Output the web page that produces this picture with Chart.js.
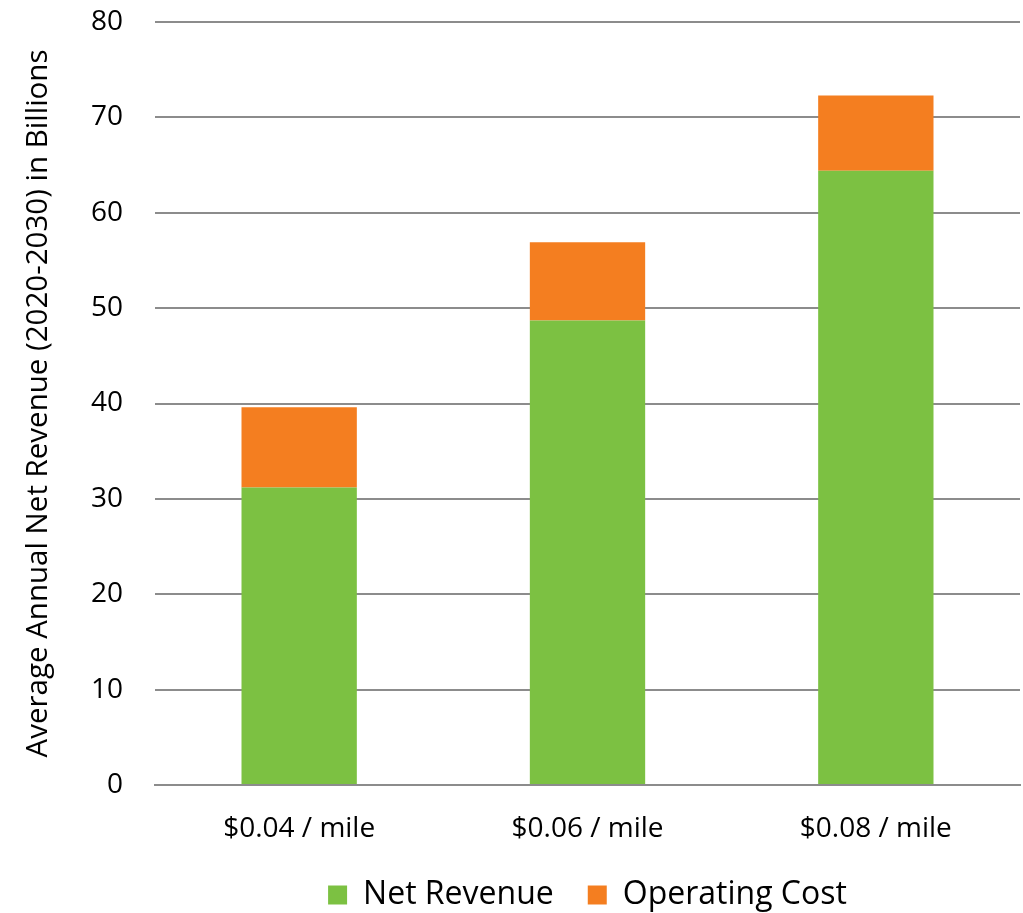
<!DOCTYPE html>
<html>
<head>
<meta charset="utf-8">
<script src="https://cdn.jsdelivr.net/npm/chart.js@4/dist/chart.umd.min.js"></script>
<style>
  html, body { margin: 0; padding: 0; background: #fff; }
  #wrap { width: 1023px; height: 913px; }
</style>
</head>
<body>
<div id="wrap"><canvas id="revenue-chart"></canvas></div>
<script>
// chart data
const categories = ["$0.04 / mile", "$0.06 / mile", "$0.08 / mile"];
const netRevenue = [31.2, 48.7, 64.4];
const operatingCost = [8.4, 8.2, 7.9];
const yTicks = [0, 10, 20, 30, 40, 50, 60, 70, 80];

const fontFamily = "'Open Sans', 'Noto Sans', sans-serif";
const gridColor = "#8c8c8c";

const revenueChart = new Chart(document.getElementById("revenue-chart"), {
  type: "bar",
  data: {
    labels: categories,
    datasets: [
      {
        label: "Net Revenue",
        data: netRevenue,
        backgroundColor: "#7cc142",
        barPercentage: 0.4,
        categoryPercentage: 1,
      },
      {
        label: "Operating Cost",
        data: operatingCost,
        backgroundColor: "#f47e20",
        barPercentage: 0.4,
        categoryPercentage: 1,
      },
    ],
  },
  options: {
    responsive: true,
    maintainAspectRatio: false,
    animation: false,
    layout: { padding: { top: 22, right: 3, left: 0, bottom: -8 } },
    plugins: {
      tooltip: { enabled: false },
      legend: {
        position: "bottom",
        fullSize: false,
        labels: {
          color: "#000",
          font: { family: fontFamily, size: 32 },
          boxWidth: 19,
          boxHeight: 19,
          padding: 34,
        },
      },
    },
    scales: {
      x: {
        stacked: true,
        grid: { display: false },
        border: { color: gridColor, width: 2 },
        ticks: {
          color: "#000",
          padding: 19,
          font: { family: fontFamily, size: 28 },
        },
        afterFit: (scale) => {
          scale.height = 60;
        },
      },
      y: {
        stacked: true,
        min: 0,
        max: 80,
        afterBuildTicks: (scale) => {
          scale.ticks = yTicks.map((v) => ({ value: v }));
        },
        afterFit: (scale) => {
          scale.width = 155;
          scale.paddingTop = 0;
          scale.paddingBottom = 0;
        },
        grid: { color: gridColor, lineWidth: 2, drawTicks: false },
        border: { display: false },
        ticks: {
          color: "#000",
          padding: 32,
          font: { family: fontFamily, size: 28 },
        },
        title: {
          display: true,
          text: "Average Annual Net Revenue (2020-2030) in Billions",
          color: "#000",
          font: { family: fontFamily, size: 29.5 },
          padding: { top: 21, bottom: 0 },
        },
      },
    },
  },
});
</script>
</body>
</html>
